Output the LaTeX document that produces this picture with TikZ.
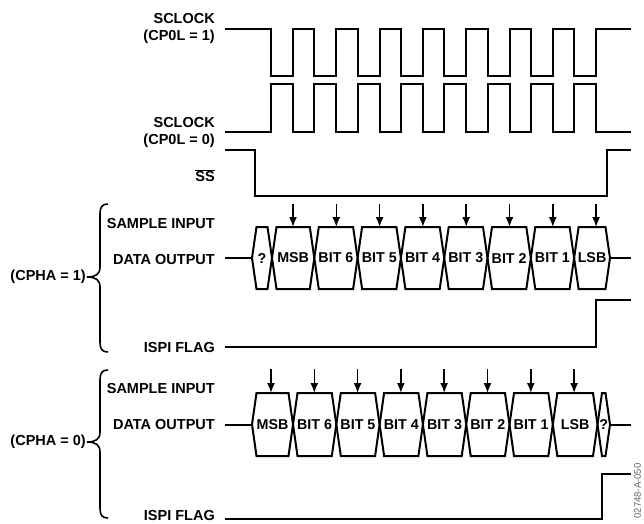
\documentclass[tikz,border=0pt]{standalone}
\usepackage{fontspec}
\setmainfont{Liberation Sans}
\usetikzlibrary{arrows.meta}
\begin{document}
\begin{tikzpicture}[x=1pt,y=-1pt,
  wave/.style={line width=2pt, line join=miter},
  lbl/.style={font=\bfseries\fontsize{14.5}{17}\selectfont, anchor=east, inner sep=0pt, align=right},
  bitlbl/.style={font=\bfseries\fontsize{14.3}{16}\selectfont, inner sep=0pt},
  smp/.style={line width=1.6pt, -{Latex[length=10pt,width=8pt]}},
  brc/.style={line width=1.6pt},
  wmark/.style={font=\fontsize{9.5}{10}\selectfont, text=black!60, rotate=90, inner sep=0pt}
]
\useasboundingbox (0,0) rectangle (644,523);

% labels
\node[lbl] (sc1) at (215,28.5) {SCLOCK\\(CP0L = 1)};
\node[lbl] (sc0) at (215,132) {SCLOCK\\(CP0L = 0)};
\node[lbl] (ss) at (215,176) {$\overline{\mbox{SS}}$};
\node[lbl] (si1) at (215,223) {SAMPLE INPUT};
\node[lbl] (do1) at (215,259) {DATA OUTPUT};
\node[lbl] (if1) at (215,347) {ISPI FLAG};
\node[lbl] (cp1) at (86,277) {(CPHA = 1)};
\node[lbl] (si0) at (215,388) {SAMPLE INPUT};
\node[lbl] (do0) at (215,424) {DATA OUTPUT};
\node[lbl] (if0) at (215,515.5) {ISPI FLAG};
\node[lbl] (cp0) at (86,442) {(CPHA = 0)};

% clocks
\draw[wave] (225,29) foreach \i in {0,...,7}{ -- ({271+43.3*\i},29) -- ({271+43.3*\i},76) -- ({293+43.3*\i},76) -- ({293+43.3*\i},29) } -- (631,29);
\draw[wave] (225,132) foreach \i in {0,...,7}{ -- ({271+43.3*\i},132) -- ({271+43.3*\i},84) -- ({293+43.3*\i},84) -- ({293+43.3*\i},132) } -- (631,132);
% SS
\draw[wave] (225,150) -- (255,150) -- (255,196) -- (607,196) -- (607,150) -- (631,150);

% CPHA = 1 data
\def\dd{4.5}
\foreach \a/\b/\t [count=\k] in {252/272/?, 272/314.3/MSB, 314.3/357.6/BIT 6, 357.6/400.9/BIT 5, 400.9/444.2/BIT 4, 444.2/487.5/BIT 3, 487.5/530.8/BIT 2, 530.8/574.1/BIT 1, 574.1/610/LSB}{
  \draw[wave] (\a,258) -- ({\a+\dd},227) -- ({\b-\dd},227) -- (\b,258) -- ({\b-\dd},289) -- ({\a+\dd},289) -- cycle;
  \node[bitlbl] (ba\k) at ({(\a+\b)/2},258) {\t};
}
\draw[wave] (225,258) -- (252,258);
\draw[wave] (610,258) -- (631,258);
\foreach \i in {0,...,7}{
  \draw[smp] ({293+43.3*\i},204) -- ({293+43.3*\i},227);
}
\draw[wave] (225,347) -- (596,347) -- (596,300) -- (631,300);

% CPHA = 0 data
\foreach \a/\b/\t [count=\k] in {252/293/MSB, 293/336.3/BIT 6, 336.3/379.6/BIT 5, 379.6/422.9/BIT 4, 422.9/466.2/BIT 3, 466.2/509.5/BIT 2, 509.5/552.8/BIT 1, 552.8/597.5/LSB, 597.5/610/?}{
  \draw[wave] (\a,424.5) -- ({\a+\dd},393) -- ({\b-\dd},393) -- (\b,424.5) -- ({\b-\dd},456) -- ({\a+\dd},456) -- cycle;
  \node[bitlbl] (bb\k) at ({(\a+\b)/2},424.5) {\t};
}
\draw[wave] (225,424.5) -- (252,424.5);
\draw[wave] (610,424.5) -- (631,424.5);
\foreach \i in {0,...,7}{
  \draw[smp] ({271+43.3*\i},369) -- ({271+43.3*\i},393);
}
\draw[wave] (225,519) -- (602,519) -- (602,474) -- (631,474);

% braces
\draw[brc] (108,204) .. controls (102,204) and (100,207) .. (100,214) -- (100,267) .. controls (100,274) and (96,277) .. (87,277) .. controls (96,277) and (100,280) .. (100,287) -- (100,342) .. controls (100,349) and (102,352) .. (108,352);
\draw[brc] (108,370) .. controls (102,370) and (100,373) .. (100,380) -- (100,432) .. controls (100,439) and (96,442) .. (87,442) .. controls (96,442) and (100,445) .. (100,452) -- (100,508) .. controls (100,515) and (102,518) .. (108,518);

\node[wmark] (wm) at (637.5,491) {02748-A-050};
\end{tikzpicture}
\end{document}
